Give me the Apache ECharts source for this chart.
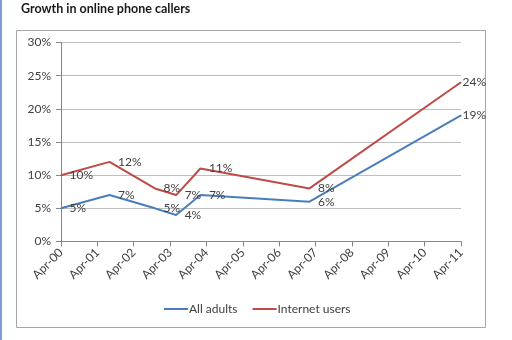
<!DOCTYPE html>
<html>
<head>
<meta charset="utf-8">
<script src="https://cdn.jsdelivr.net/npm/echarts@6/dist/echarts.min.js"></script>
<style>
  html, body { margin: 0; padding: 0; background: #ffffff; }
  #chart { width: 512px; height: 340px; }
</style>
</head>
<body>
<div id="chart"></div>
<script>
// Axis tick labels (one per April, 2000-2011)
const categories = ['Apr-00', 'Apr-01', 'Apr-02', 'Apr-03', 'Apr-04', 'Apr-05',
                    'Apr-06', 'Apr-07', 'Apr-08', 'Apr-09', 'Apr-10', 'Apr-11'];

// Survey dates (year-month) and share of online phone callers (%)
const surveyDates = ['2000-04', '2001-08', '2002-11', '2003-06', '2004-02', '2007-02', '2011-04'];
const allAdults     = [5, 7, 5, 4, 7, 6, 19];
const internetUsers = [10, 12, 8, 7, 11, 8, 24];

const yTicks = [0, 5, 10, 15, 20, 25, 30];

// Years since April 2000, so that each category sits on an integer tick
function toAxis(d) {
  const [y, m] = d.split('-').map(Number);
  return (y - 2000) + (m - 4) / 12;
}

function buildData(values) {
  return values.map((v, i) => {
    const item = { value: [toAxis(surveyDates[i]), v] };
    if (i === values.length - 1) item.label = { distance: 1 };
    return item;
  });
}

const textColor = '#404040';
const fontFamily = 'Lato, "Liberation Sans", sans-serif';

const chart = echarts.init(document.getElementById('chart'), null, { renderer: 'canvas' });

function lineSeries(name, values, color) {
  return {
    name: name,
    type: 'line',
    data: buildData(values),
    symbol: 'circle',
    symbolSize: 1,
    showSymbol: true,
    lineStyle: { color: color, width: 2 },
    itemStyle: { color: color },
    label: {
      show: true, position: 'right', distance: 8,
      fontSize: 12, color: textColor, fontFamily: fontFamily,
      formatter: p => p.value[1] + '%'
    }
  };
}

chart.setOption({
  animation: false,
  backgroundColor: '#ffffff',
  textStyle: { fontFamily: fontFamily },
  title: {
    text: 'Growth in online phone callers',
    left: 16,
    top: -3,
    textStyle: { fontFamily: fontFamily, fontSize: 12.5, fontWeight: 'bold', color: '#1a1a1a' }
  },
  graphic: [
    { type: 'rect', shape: { x: 0, y: 0, width: 2, height: 340 }, style: { fill: '#7e9dd2' }, silent: true },
    { type: 'rect', shape: { x: 16.5, y: 30.5, width: 469, height: 297 },
      style: { fill: 'none', stroke: '#a6a6a6', lineWidth: 1 }, silent: true, z: -1 }
  ],
  grid: { left: 61, right: 51, top: 42.5, bottom: 98.5, containLabel: false },
  legend: {
    top: 303,
    left: 164,
    padding: 0,
    itemWidth: 24,
    itemHeight: 2,
    itemGap: 15,
    icon: 'rect',
    textStyle: { fontFamily: fontFamily, fontSize: 12, color: textColor, padding: [0, 0, 0, -4] },
    data: ['All adults', 'Internet users']
  },
  xAxis: {
    type: 'value',
    min: 0,
    max: categories.length - 1,
    interval: 1,
    axisLine: { show: true, lineStyle: { color: '#868686', width: 1 } },
    axisTick: { show: true, length: 5, lineStyle: { color: '#868686' } },
    splitLine: { show: false },
    axisLabel: {
      rotate: 45,
      margin: 9,
      fontSize: 12,
      color: textColor,
      fontFamily: fontFamily,
      formatter: v => categories[Math.round(v)] || ''
    }
  },
  yAxis: {
    type: 'value',
    min: yTicks[0],
    max: yTicks[yTicks.length - 1],
    interval: 5,
    axisLine: { show: true, lineStyle: { color: '#868686', width: 1 } },
    axisTick: { show: true, inside: false, length: 5, lineStyle: { color: '#868686' } },
    splitLine: { show: true, lineStyle: { color: '#bfbfbf', width: 1 } },
    axisLabel: {
      margin: 10,
      fontSize: 12,
      color: textColor,
      fontFamily: fontFamily,
      formatter: v => v + '%'
    }
  },
  series: [
    lineSeries('All adults', allAdults, '#4a7ebb'),
    lineSeries('Internet users', internetUsers, '#be4b48')
  ]
});
</script>
</body>
</html>
